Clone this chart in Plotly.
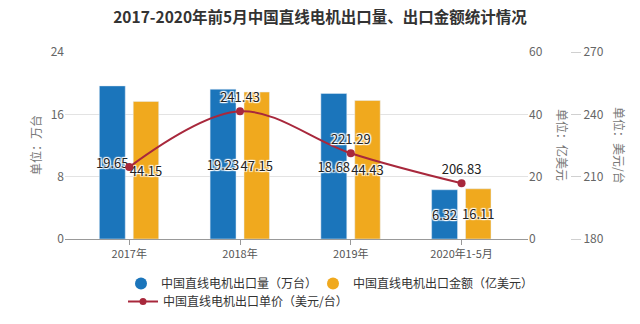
import plotly.graph_objects as go

categories = ["2017年", "2018年", "2019年", "2020年1-5月"]
volume = [19.65, 19.23, 18.68, 6.32]          # 万台
amount = [44.15, 47.15, 44.43, 16.11]         # 亿美元
price = [214.6, 241.43, 221.29, 206.83]       # 美元/台
price_labels = ["", "241.43", "221.29", "206.83"]

name_vol = "中国直线电机出口量（万台）"
name_amt = "中国直线电机出口金额（亿美元）"
name_price = "中国直线电机出口单价（美元/台）"

BLUE = "#1b75bb"
ORANGE = "#f0a91e"
RED = "#a8283c"
FONT = "Noto Sans CJK SC"
halo = "1px 1px 1px #fff, -1px -1px 1px #fff, 1px -1px 1px #fff, -1px 1px 1px #fff, 0 0 2px #fff"

fig = go.Figure()

fig.add_trace(go.Bar(
    x=categories, y=volume, name=name_vol, marker_color=BLUE,
    width=0.234, offset=-0.27, yaxis="y",
    text=[f"{v:.2f}" for v in volume], textposition="inside", textangle=0,
    insidetextanchor="middle", constraintext="none",
    textfont=dict(size=13, color="#222", family=FONT, shadow=halo),
    showlegend=False,
))
fig.add_trace(go.Bar(
    x=categories, y=amount, name=name_amt, marker_color=ORANGE,
    width=0.23, offset=0.036, yaxis="y2",
    text=[f"{v:.2f}" for v in amount], textposition="inside", textangle=0,
    insidetextanchor="middle", constraintext="none",
    textfont=dict(size=13, color="#222", family=FONT, shadow=halo),
    showlegend=False,
))
fig.add_trace(go.Scatter(
    x=categories, y=price, name=name_price, yaxis="y3",
    mode="lines+markers+text", line=dict(color=RED, width=2, shape="spline", smoothing=1),
    marker=dict(color=RED, size=8),
    text=price_labels, textposition="top center",
    textfont=dict(size=13, color="#222", family=FONT, shadow=halo),
    showlegend=False,
))
# legend entries (circle symbols like the reference), one legend box each
fig.add_trace(go.Scatter(x=[None], y=[None], mode="markers", name=name_vol, legend="legend",
                         marker=dict(color=BLUE, size=12, symbol="circle")))
fig.add_trace(go.Scatter(x=[None], y=[None], mode="markers", name=name_amt, legend="legend2",
                         marker=dict(color=ORANGE, size=12, symbol="circle")))
fig.add_trace(go.Scatter(x=[None], y=[None], mode="lines+markers", name=name_price, legend="legend3",
                         line=dict(color=RED, width=2), marker=dict(color=RED, size=7)))

pw = 555.0
ph = 187.0


def legend_box(px, py):
    return dict(orientation="h", x=(px - 65) / pw, xanchor="left",
                y=-(py - 239) / ph, yanchor="top",
                font=dict(size=12, color="#333", family=FONT),
                bgcolor="rgba(0,0,0,0)")


fig.update_layout(
    width=640, height=324,
    margin=dict(l=65, r=20, t=52, b=85, autoexpand=False),
    paper_bgcolor="white", plot_bgcolor="white",
    font=dict(family=FONT, size=11, color="#555"),
    barmode="overlay",
    title=dict(text="<b>2017-2020年前5月中国直线电机出口量、出口金额统计情况</b>",
               x=0.5, xref="container", xanchor="center",
               y=1 - 18 / 324, yref="container", yanchor="middle",
               font=dict(size=15.5, color="#333", family=FONT)),
    xaxis=dict(domain=[0, (528 - 65) / pw], range=[-0.58, 3.6],
               showline=True, linecolor="#999", linewidth=1,
               ticks="outside", ticklen=5, tickcolor="#999",
               tickfont=dict(size=11, color="#555"), showgrid=False),
    yaxis=dict(range=[0, 24], dtick=8, showgrid=True, gridcolor="#e3e3e3",
               zeroline=False, tickfont=dict(size=12, color="#666"), ticks=""),
    yaxis2=dict(range=[0, 60], dtick=20, overlaying="y", side="right", anchor="x",
                showgrid=False, zeroline=False, tickfont=dict(size=12, color="#666")),
    yaxis3=dict(range=[180, 270], dtick=30, overlaying="y", side="right", anchor="free",
                position=(570 - 65) / pw, showgrid=False, zeroline=False,
                ticks="outside", ticklen=10, tickcolor="#d0d0d0",
                tickfont=dict(size=12, color="#666")),
    legend=legend_box(121, 269),
    legend2=legend_box(313, 269),
    legend3=legend_box(123, 287),
)

axis_titles = [("单位：万台", 35, 145, -90), ("单位：亿美元", 563, 145, 90), ("单位：美元/台", 620, 145, 90)]
for txt, px, py, ang in axis_titles:
    fig.add_annotation(text=txt, x=(px - 65) / pw, y=(239 - py) / ph, xref="paper", yref="paper",
                       xanchor="center", yanchor="middle",
                       showarrow=False, textangle=ang, font=dict(size=12, color="#777"))

fig.write_html("out.html")
